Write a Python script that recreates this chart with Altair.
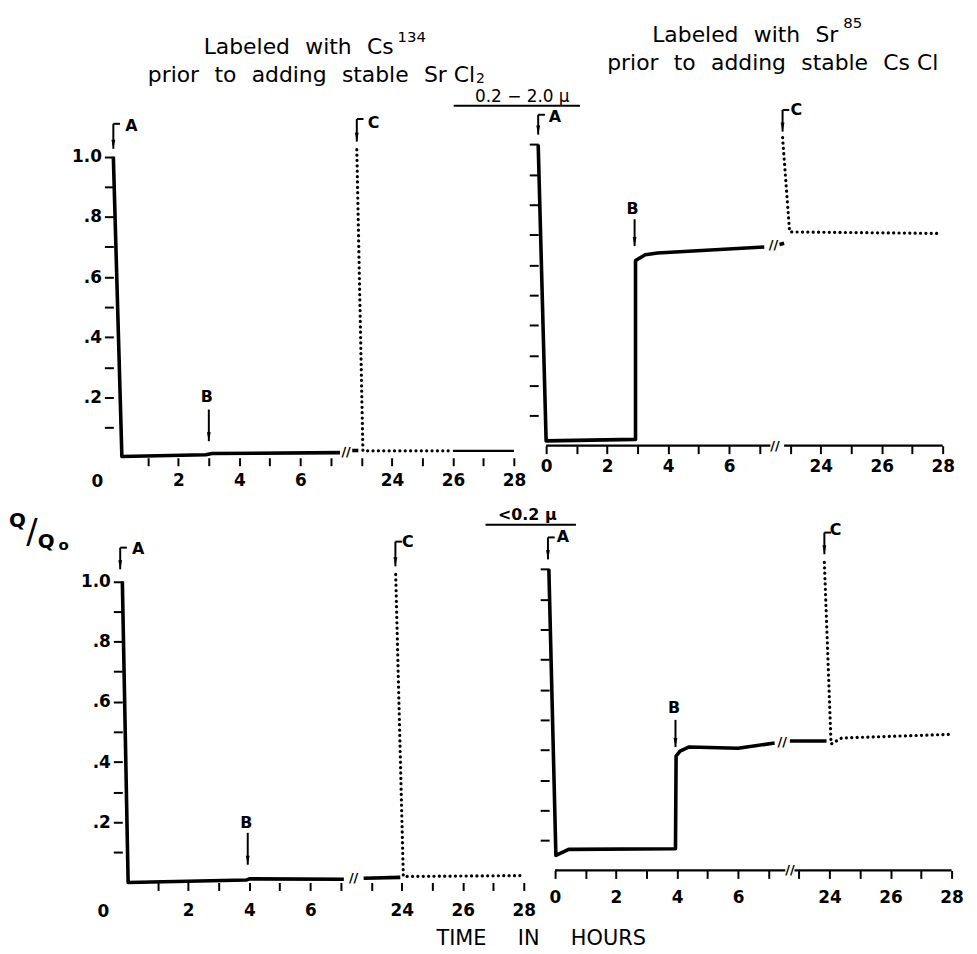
import altair as alt
import pandas as pd

FONT = "DejaVu Sans"

# ---------------- data (hours, Q/Q0) ----------------
# top-left: 0.2-2.0 u, labeled with Cs134
TL_S1_H = [-0.13, 0.15, 2.9, 3.1, 7.3]
TL_S1_V = [1.0, 0.004, 0.010, 0.014, 0.017]
TL_S2_H = [22.7, 22.9]
TL_S2_V = [0.024, 0.024]
TL_D_H = [22.85, 23.05, 26.0]
TL_D_V = [1.023, 0.023, 0.023]
TL_AX_H = [26.0, 28.0]
TL_AX_V = [0.023, 0.023]

# top-right: 0.2-2.0 u, labeled with Sr85
TR_S1_H = [-0.26, 0.0, 2.93, 2.93, 3.25, 3.65, 7.15]
TR_S1_V = [1.0, 0.016, 0.021, 0.615, 0.634, 0.640, 0.660]
TR_S2_H = [22.65, 22.8]
TR_S2_V = [0.668, 0.672]
TR_D_H = [22.75, 22.98, 27.85]
TR_D_V = [1.023, 0.710, 0.705]
TR_AX_H = [0.0, 7.35, 22.8, 28.0]
TR_AX_V = [0.0, 0.0, 0.0, 0.0]

# bottom-left: <0.2 u, labeled with Cs134
BL_S1_H = [-0.16, 0.03, 3.9, 4.0, 7.1]
BL_S1_V = [1.0, 0.0, 0.008, 0.012, 0.011]
BL_S2_H = [22.75, 23.95]
BL_S2_V = [0.014, 0.017]
BL_D_H = [23.8, 24.05, 27.95]
BL_D_V = [1.023, 0.020, 0.023]

# bottom-right: <0.2 u, labeled with Sr85
BR_S1_H = [-0.2, 0.03, 0.45, 3.95, 3.97, 4.1, 4.4, 6.0, 7.2]
BR_S1_V = [1.0, 0.050, 0.070, 0.072, 0.380, 0.396, 0.410, 0.406, 0.423]
BR_S2_H = [22.7, 23.9]
BR_S2_V = [0.430, 0.430]
BR_D_H = [23.83, 24.05, 24.4, 27.95]
BR_D_V = [1.023, 0.420, 0.440, 0.452]
BR_AX_H = [0.0, 7.55, 22.85, 28.0]
BR_AX_V = [0.0, 0.0, 0.0, 0.0]

# arrows A, B, C
ARROW_LABELS = ["A", "B", "C"]
ARROW_HOOK = [True, False, True]
TL_AR_H = [-0.13, 3.0, 22.85]
TL_AR_TOP = [1.109, 0.160, 1.125]
TL_AR_TIP = [1.026, 0.055, 1.050]
TL_LT_H = [0.46, 2.93, 23.4]
TL_LT_V = [1.100, 0.200, 1.110]

TR_AR_H = [-0.26, 2.9, 22.75]
TR_AR_TOP = [1.099, 0.752, 1.115]
TR_AR_TIP = [1.033, 0.663, 1.043]
TR_LT_H = [0.29, 2.83, 23.2]
TR_LT_V = [1.092, 0.785, 1.115]

BL_AR_H = [-0.23, 3.95, 23.79]
BL_AR_TOP = [1.112, 0.165, 1.132]
BL_AR_TIP = [1.040, 0.059, 1.050]
BL_LT_H = [0.36, 3.9, 24.2]
BL_LT_V = [1.106, 0.198, 1.130]

BR_AR_H = [-0.23, 3.95, 23.83]
BR_AR_TOP = [1.106, 0.500, 1.122]
BR_AR_TIP = [1.033, 0.410, 1.050]
BR_LT_H = [0.26, 3.9, 24.2]
BR_LT_V = [1.106, 0.540, 1.130]

# axis break symbols
TL_BRK_H = [7.5]
TL_BRK_V = [0.020]
TR_BRK_H = [7.45, 7.5]
TR_BRK_V = [0.665, 0.0]
BL_BRK_H = [7.42]
BL_BRK_V = [0.014]
BR_BRK_H = [7.45, 7.7]
BR_BRK_V = [0.426, 0.0]

# ticks / labels
TICK_HOURS = [0, 1, 2, 3, 4, 5, 6, 7, 23, 24, 25, 26, 27, 28]
LABEL_HOURS = [0, 2, 4, 6, 24, 26, 28]
Y_TICKS = [0.1, 0.2, 0.3, 0.4, 0.5, 0.6, 0.7, 0.8, 0.9, 1.0]
Y_LABELS = {1.0: "1.0", 0.8: ".8", 0.6: ".6", 0.4: ".4", 0.2: ".2"}

# ---------------- layout constants ----------------
KX = 30.7     # px per hour
KY = 303.0    # px per unit Q/Q0
HOOK = 0.22


def brk(h):
    return h if h < 15 else h - 15


def line_df(parts):
    rows = []
    for seg, (hs, vs) in enumerate(parts):
        for i, (h, v) in enumerate(zip(hs, vs)):
            rows.append({"seg": seg, "i": i, "xt": brk(h), "v": v})
    return pd.DataFrame(rows)


def x_label_expr(show_zero):
    expr = "''"
    for h in LABEL_HOURS:
        if h == 0 and not show_zero:
            continue
        expr = f"abs(datum.value - {brk(h)}) < 0.01 ? '{h}' : ({expr})"
    return expr


def y_label_expr():
    expr = "''"
    for val, s in Y_LABELS.items():
        expr = f"abs(datum.value - {val}) < 0.001 ? '{s}' : ({expr})"
    return expr


def panel(p):
    xlo, xhi = p["xdom"]
    ylo, yhi = p["ydom"]
    xs = alt.Scale(domain=[xlo, xhi], nice=False, zero=False)
    ys = alt.Scale(domain=[ylo, yhi], nice=False, zero=False)
    tick_vals = [brk(h) for h in TICK_HOURS if (h > 0 or p["right"])]
    xaxis = alt.Axis(values=tick_vals, labelExpr=x_label_expr(p["right"]),
                     domain=False, grid=False, ticks=True, tickSize=8, tickWidth=2,
                     tickColor="black", labelColor="black", labelFont=FONT,
                     labelFontSize=17, labelFontWeight="bold", labelPadding=p["lpad"],
                     labelFlush=False, labelOverlap=False, title=None)
    yaxis = alt.Axis(values=Y_TICKS, labelExpr=y_label_expr(), labels=not p["right"],
                     domain=False, grid=False, tickSize=9, tickWidth=2, tickColor="black",
                     labelColor="black", labelFont=FONT, labelFontSize=17,
                     labelFontWeight="bold", labelPadding=3, offset=p["yoff"],
                     labelOverlap=False, title=None)
    X = alt.X("xt:Q", scale=xs, axis=xaxis)
    Y = alt.Y("v:Q", scale=ys, axis=yaxis)

    layers = []
    solid = alt.Chart(line_df(p["solid"])).mark_line(
        color="black", strokeWidth=3.6, strokeJoin="round", strokeCap="butt"
    ).encode(x=X, y=Y, detail="seg:N", order="i:Q")
    layers.append(solid)

    dotted = alt.Chart(line_df([p["dot"]])).mark_line(
        color="black", strokeWidth=3.2, strokeDash=[0.1, 5.3], strokeCap="round"
    ).encode(x=X, y=Y, order="i:Q")
    layers.append(dotted)

    if p.get("axis"):
        hs, vs = p["axis"]
        parts = [(hs[i:i + 2], vs[i:i + 2]) for i in range(0, len(hs), 2)]
        ax = alt.Chart(line_df(parts)).mark_line(
            color="black", strokeWidth=2.2
        ).encode(x=X, y=Y, detail="seg:N", order="i:Q")
        layers.append(ax)

    ar = pd.DataFrame({
        "lab": ARROW_LABELS, "hook": ARROW_HOOK,
        "xt": [brk(h) for h in p["ar_h"]], "top": p["ar_top"], "tip": p["ar_tip"],
        "lx": [brk(h) for h in p["lt_h"]], "lv": p["lt_v"],
    })
    ar["xt2"] = ar["xt"] + HOOK
    Yt = alt.Y("top:Q", scale=ys, axis=yaxis)
    shafts = alt.Chart(ar).mark_rule(color="black", strokeWidth=2).encode(
        x=X, y=Yt, y2="tip:Q")
    hooks = alt.Chart(ar).transform_filter("datum.hook").mark_rule(
        color="black", strokeWidth=2).encode(x=X, x2="xt2:Q", y=Yt)
    heads = alt.Chart(ar).mark_point(
        shape="M-0.55,-2.6L0.55,-2.6L0,0Z", filled=True, size=49, color="black",
        opacity=1, strokeWidth=0.6
    ).encode(x=X, y=alt.Y("tip:Q", scale=ys, axis=yaxis))
    letters = alt.Chart(ar).mark_text(
        font=FONT, fontSize=16, fontWeight="bold", color="black",
        align="center", baseline="middle"
    ).encode(x=alt.X("lx:Q", scale=xs, axis=xaxis),
             y=alt.Y("lv:Q", scale=ys, axis=yaxis), text="lab:N")
    layers += [shafts, hooks, heads, letters]

    bk = pd.DataFrame({"xt": [brk(h) for h in p["brk_h"]], "v": p["brk_v"]})
    breaks = alt.Chart(bk).mark_text(
        text="//", font=FONT, fontSize=13, fontWeight="bold", color="black",
        align="center", baseline="middle"
    ).encode(x=X, y=Y)
    layers.append(breaks)

    one = pd.DataFrame({"k": [0]})
    for t in p["texts"]:
        txt, px, py, size, weight, base, align = t
        layers.append(alt.Chart(one).mark_text(
            text=txt, font=FONT, fontSize=size, fontWeight=weight, color="black",
            align=align, baseline=base
        ).encode(x=alt.value(px), y=alt.value(py)))
    for r in p.get("rules", []):
        x1, x2, yy = r
        layers.append(alt.Chart(one).mark_rule(color="black", strokeWidth=2).encode(
            x=alt.value(x1), x2=alt.value(x2), y=alt.value(yy)))

    return alt.layer(*layers).properties(
        width=(xhi - xlo) * KX, height=(yhi - ylo) * KY)


G = "\u2002\u2009"          # word gap for the titles
GW = "\u2003\u2002"         # wider gap for the axis caption

tl = panel(dict(
    xdom=[-0.195, 13.05], ydom=[0, 1.2], right=False, yoff=-2, lpad=7,
    solid=[(TL_S1_H, TL_S1_V), (TL_S2_H, TL_S2_V)], dot=(TL_D_H, TL_D_V),
    axis=(TL_AX_H, TL_AX_V),
    ar_h=TL_AR_H, ar_top=TL_AR_TOP, ar_tip=TL_AR_TIP, lt_h=TL_LT_H, lt_v=TL_LT_V,
    brk_h=TL_BRK_H, brk_v=TL_BRK_V,
    texts=[
        (f"Labeled{G}with{G}Cs", 284, -42.4, 22, "normal", "alphabetic", "right"),
        ("134", 288, -54.4, 15, "normal", "alphabetic", "left"),
        (f"prior{G}to{G}adding{G}stable{G}Sr Cl", 366, -14.4, 22, "normal", "alphabetic", "right"),
        ("2", 367, -13.5, 14, "normal", "alphabetic", "left"),
        ("0", -14, 387.6, 17, "bold", "middle", "center"),
    ],
))

tr = panel(dict(
    xdom=[-0.26, 13.05], ydom=[0, 1.16], right=True, yoff=0, lpad=5,
    solid=[(TR_S1_H, TR_S1_V), (TR_S2_H, TR_S2_V)], dot=(TR_D_H, TR_D_V),
    axis=(TR_AX_H, TR_AX_V),
    ar_h=TR_AR_H, ar_top=TR_AR_TOP, ar_tip=TR_AR_TIP, lt_h=TR_LT_H, lt_v=TR_LT_V,
    brk_h=TR_BRK_H, brk_v=TR_BRK_V,
    texts=[
        (f"Labeled{G}with{G}Sr", 302, -54.4, 22, "normal", "alphabetic", "right"),
        ("85", 307, -68.4, 15, "normal", "alphabetic", "left"),
        (f"prior{G}to{G}adding{G}stable{G}Cs Cl", 236, -26.4, 22, "normal", "alphabetic", "center"),
        ("0.2 − 2.0 μ", -16, 5.2, 17, "normal", "alphabetic", "center"),
    ],
    rules=[(-85, 42, 9.4)],
))

bl = panel(dict(
    xdom=[-0.52, 13.05], ydom=[0, 1.2], right=False, yoff=-11, lpad=12,
    solid=[(BL_S1_H, BL_S1_V), (BL_S2_H, BL_S2_V)], dot=(BL_D_H, BL_D_V),
    ar_h=BL_AR_H, ar_top=BL_AR_TOP, ar_tip=BL_AR_TIP, lt_h=BL_LT_H, lt_v=BL_LT_V,
    brk_h=BL_BRK_H, brk_v=BL_BRK_V,
    texts=[
        ("0", -8, 393.6, 17, "bold", "middle", "center"),
        ("Q", -94.5, 5.6, 20, "bold", "alphabetic", "center"),
        ("/", -80, 21.6, 34, "normal", "alphabetic", "center"),
        ("Q", -65.5, 26.6, 20, "bold", "alphabetic", "center"),
        ("o", -48, 28.6, 15, "bold", "alphabetic", "center"),
    ],
))

br = panel(dict(
    xdom=[-0.55, 13.05], ydom=[0, 1.16], right=True, yoff=-11, lpad=11,
    solid=[(BR_S1_H, BR_S1_V), (BR_S2_H, BR_S2_V)], dot=(BR_D_H, BR_D_V),
    axis=(BR_AX_H, BR_AX_V),
    ar_h=BR_AR_H, ar_top=BR_AR_TOP, ar_tip=BR_AR_TIP, lt_h=BR_LT_H, lt_v=BR_LT_V,
    brk_h=BR_BRK_H, brk_v=BR_BRK_V,
    texts=[
        ("<0.2 μ", -11, -1.4, 16, "bold", "alphabetic", "center"),
        (f"TIME{GW}IN{GW}HOURS", 3, 426.6, 21, "normal", "alphabetic", "center"),
    ],
    rules=[(-53, 38, 3.6)],
))

chart = alt.concat(
    tl, tr, bl, br, columns=2, bounds="flush", align="all",
    spacing={"row": 63.4, "column": 11.5},
).resolve_scale(x="independent", y="independent").properties(
    padding={"left": 0, "top": 5, "right": 5, "bottom": 2},
    background="white",
).configure_view(stroke=None)

chart.save("out.html", embed_options={"renderer": "svg", "actions": False})
